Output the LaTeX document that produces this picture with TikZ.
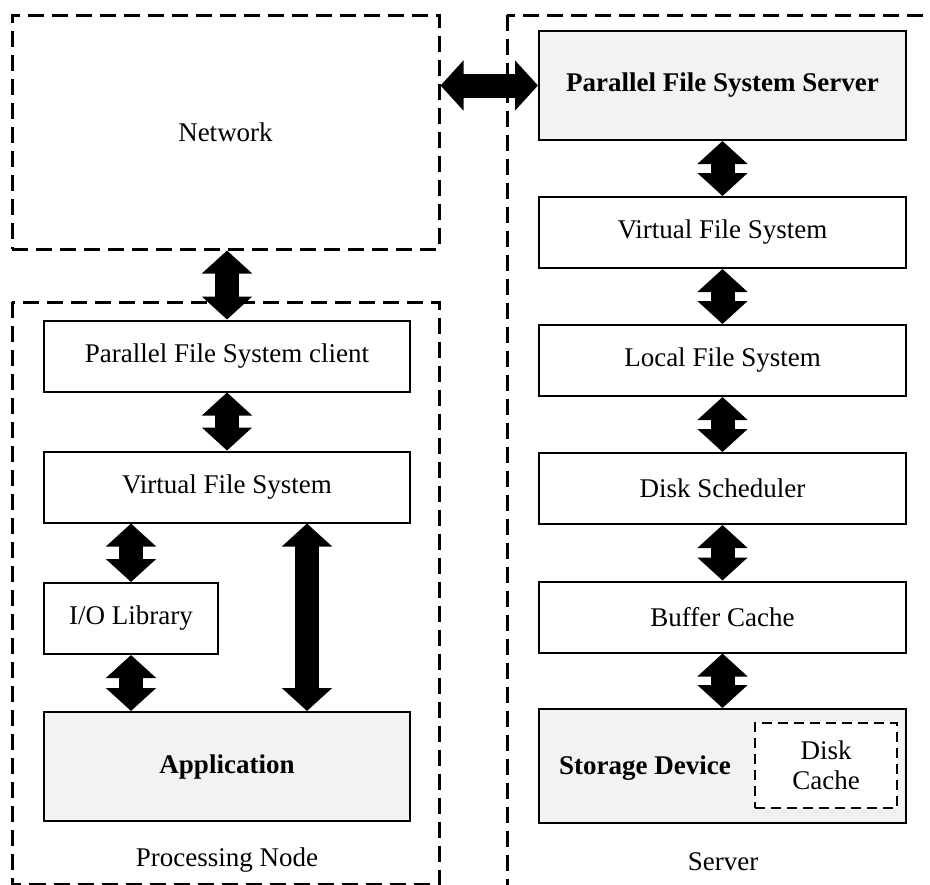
\documentclass[tikz,border=0pt]{standalone}
\usepackage{fontspec}
\setmainfont{Liberation Serif}
\usetikzlibrary{arrows.meta}
\tikzset{
	layer/.style={draw, line width=1pt, fill=white, minimum width=183pt, minimum height=35.5pt, inner sep=2pt, font=\fontsize{13.5}{16}\selectfont},
	hilayer/.style={layer, fill=black!5, font=\fontsize{13.5}{16}\selectfont\bfseries},
	region/.style={draw, line width=1.5pt, dash pattern=on 8pt off 4pt},
	fatarrow/.style={line width=12pt, {Triangle[width=24.5pt,length=11.5pt]}-{Triangle[width=24.5pt,length=11.5pt]}},
}
\begin{document}
\begin{tikzpicture}[x=0.5pt, y=-0.5pt]
			%%%%% START %%%%%
			
			\useasboundingbox (0, 0) rectangle (930, 884);
			\clip (0, 0) rectangle (930, 884);
			
			\node[region, minimum width=213.5pt, minimum height=117pt, font=\fontsize{13.5}{16}\selectfont] (net) at (225.5, 132) {\raisebox{-3pt}{Network}};
			\draw[region] (12, 302) rectangle (439, 884.5);
			\draw[region] (507, 15) rectangle (960, 910);
			
			\node[layer] (pfsc) at (227, 356) {Parallel File System client};
			\node[layer] (cvfs) at (227, 487) {Virtual File System};
			\node[layer, minimum width=87pt] (iolib) at (131, 618.5) {I/O Library};
			\node[hilayer, minimum height=54.5pt] (app) at (227, 766.5) {Application};
			\node[font=\fontsize{13.5}{16}\selectfont] (pnode) at (227, 860) {Processing Node};
			
			\node[hilayer, minimum width=183.5pt, minimum height=54.5pt] (pfss) at (722.5, 85.5) {Parallel File System Server};
			\node[layer, minimum width=183.5pt] (svfs) at (722.5, 232.5) {Virtual File System};
			\node[layer, minimum width=183.5pt] (lfs) at (722.5, 360.5) {Local File System};
			\node[layer, minimum width=183.5pt] (dsch) at (722.5, 488.5) {Disk Scheduler};
			\node[layer, minimum width=183.5pt] (bcache) at (722.5, 617) {Buffer Cache};
			\node[hilayer, minimum width=183.5pt, minimum height=57pt] (stor) at (722.5, 766) {};
			\node[font=\fontsize{13.5}{16}\selectfont\bfseries] (storlabel) at (645, 768) {Storage Device};
			\node[draw, fill=white, line width=1pt, dash pattern=on 5pt off 3pt, minimum width=71pt, minimum height=42.5pt, align=center, font=\fontsize{13.5}{15}\selectfont] (dcache) at (826, 765.5) {Disk\\Cache};
			\node[font=\fontsize{13.5}{16}\selectfont] (srvlabel) at (723, 862) {Server};
			
			\coordinate (vx) at (307, 0);
			\draw[fatarrow] (net.south -| pfsc) -- (pfsc.north);
			\draw[fatarrow] (pfsc) -- (cvfs);
			\draw[fatarrow] (cvfs.south -| iolib) -- (iolib.north);
			\draw[fatarrow] (iolib.south) -- (app.north -| iolib);
			\draw[fatarrow] (cvfs.south -| vx) -- (app.north -| vx);
			\draw[fatarrow] (net.east |- pfss.west) -- (pfss.west);
			
			\foreach \a/\b in {pfss/svfs, svfs/lfs, lfs/dsch, dsch/bcache, bcache/stor}
				\draw[fatarrow] (\a) -- (\b);
			
			%%%%% END %%%%%
		\end{tikzpicture}
\end{document}
